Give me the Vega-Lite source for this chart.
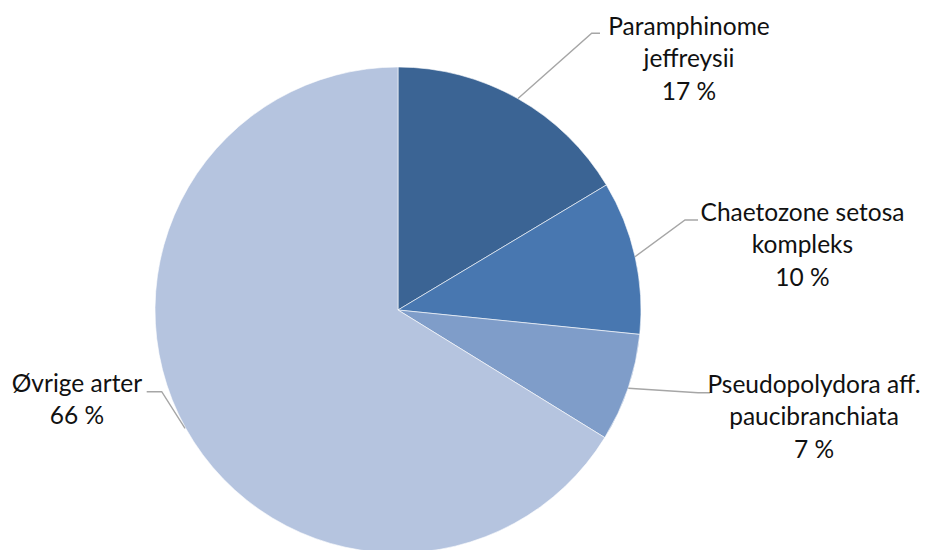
{
  "$schema": "https://vega.github.io/schema/vega-lite/v6.json",
  "width": 934,
  "height": 550,
  "padding": 0,
  "autosize": {"type": "none"},
  "background": "#ffffff",
  "config": {"view": {"stroke": null}},
  "datasets": {
    "slices": [
      {"i": 1, "art": "Paramphinome jeffreysii", "andel": 16.4},
      {"i": 2, "art": "Chaetozone setosa kompleks", "andel": 10.2},
      {"i": 3, "art": "Pseudopolydora aff. paucibranchiata", "andel": 7.2},
      {"i": 4, "art": "Øvrige arter", "andel": 66.2}
    ],
    "leaders": [
      {"art": "Paramphinome jeffreysii", "k": 0, "lx": 49.38, "ly": 87.0},
      {"art": "Paramphinome jeffreysii", "k": 1, "lx": 79.71, "ly": 113.87},
      {"art": "Paramphinome jeffreysii", "k": 2, "lx": 83.13, "ly": 113.87},
      {"art": "Chaetozone setosa kompleks", "k": 0, "lx": 97.53, "ly": 21.93},
      {"art": "Chaetozone setosa kompleks", "k": 1, "lx": 118.11, "ly": 37.04},
      {"art": "Chaetozone setosa kompleks", "k": 2, "lx": 123.46, "ly": 37.04},
      {"art": "Pseudopolydora aff. paucibranchiata", "k": 0, "lx": 94.77, "ly": -32.22},
      {"art": "Pseudopolydora aff. paucibranchiata", "k": 1, "lx": 123.46, "ly": -34.03},
      {"art": "Pseudopolydora aff. paucibranchiata", "k": 2, "lx": 128.4, "ly": -34.03},
      {"art": "Øvrige arter", "k": 0, "lx": -87.65, "ly": -48.68},
      {"art": "Øvrige arter", "k": 1, "lx": -97.24, "ly": -33.62},
      {"art": "Øvrige arter", "k": 2, "lx": -103.42, "ly": -33.62}
    ],
    "labels": [
      {"art": "Paramphinome jeffreysii", "tx": 119.75, "ty": 113.17, "tekst": ["Paramphinome", "jeffreysii", "17 %"]},
      {"art": "Chaetozone setosa kompleks", "tx": 166.46, "ty": 36.63, "tekst": ["Chaetozone setosa", "kompleks", "10 %"]},
      {"art": "Pseudopolydora aff. paucibranchiata", "tx": 171.19, "ty": -34.16, "tekst": ["Pseudopolydora aff.", "paucibranchiata", "7 %"]},
      {"art": "Øvrige arter", "tx": -132.1, "ty": -33.74, "tekst": ["Øvrige arter", "66 %"]}
    ]
  },
  "layer": [
    {
      "data": {"name": "slices"},
      "mark": {"type": "arc", "outerRadius": 243, "stroke": "#ffffff", "strokeWidth": 0.6},
      "encoding": {
        "theta": {"field": "andel", "type": "quantitative", "stack": true},
        "order": {"field": "i", "type": "quantitative"},
        "color": {
          "field": "art",
          "type": "nominal",
          "scale": {
            "domain": ["Paramphinome jeffreysii", "Chaetozone setosa kompleks", "Pseudopolydora aff. paucibranchiata", "Øvrige arter"],
            "range": ["#3B6494", "#4877B0", "#7F9DC9", "#B5C4DF"]
          },
          "legend": null
        },
        "x": {"datum": 0, "type": "quantitative", "scale": {"domain": [-163.79, 220.58], "nice": false, "zero": false}, "axis": null},
        "y": {"datum": 0, "type": "quantitative", "scale": {"domain": [-98.77, 127.57], "nice": false, "zero": false}, "axis": null}
      }
    },
    {
      "data": {"name": "leaders"},
      "mark": {"type": "line", "color": "#a6a6a6", "strokeWidth": 1.4},
      "encoding": {
        "x": {"field": "lx", "type": "quantitative", "scale": {"domain": [-163.79, 220.58], "nice": false, "zero": false}, "axis": null},
        "y": {"field": "ly", "type": "quantitative", "scale": {"domain": [-98.77, 127.57], "nice": false, "zero": false}, "axis": null},
        "detail": {"field": "art", "type": "nominal"},
        "order": {"field": "k", "type": "quantitative"}
      }
    },
    {
      "data": {"name": "labels"},
      "mark": {"type": "text", "align": "center", "baseline": "alphabetic", "font": "Lato", "fontSize": 24.5, "lineHeight": 32.5, "color": "#111111"},
      "encoding": {
        "x": {"field": "tx", "type": "quantitative", "scale": {"domain": [-163.79, 220.58], "nice": false, "zero": false}, "axis": null},
        "y": {"field": "ty", "type": "quantitative", "scale": {"domain": [-98.77, 127.57], "nice": false, "zero": false}, "axis": null},
        "text": {"field": "tekst", "type": "nominal"}
      }
    }
  ]
}
